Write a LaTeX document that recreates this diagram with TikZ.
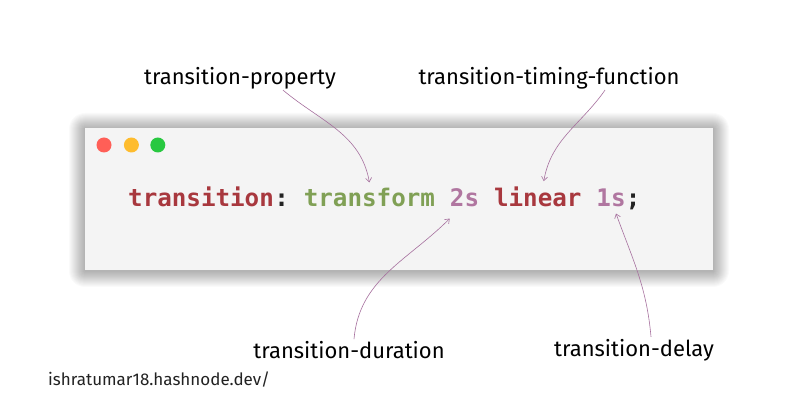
\documentclass[tikz,border=0pt]{standalone}
\usepackage{fontspec}
\setmainfont{Fira Sans}
\setmonofont{DejaVu Sans Mono}
\usepackage {tikz}
\usetikzlibrary {positioning}
\usetikzlibrary{arrows.meta}
\definecolor{keyred}{RGB}{168,56,62}
\definecolor{valgreen}{RGB}{128,160,85}
\definecolor{numpurple}{RGB}{176,118,160}
\definecolor{punct}{RGB}{34,34,34}
\definecolor{winbg}{RGB}{244,244,244}
\definecolor{pointerc}{RGB}{166,112,158}
\tikzset{
    proptext/.style = {font=\fontsize{22}{24}\selectfont, text=black, inner sep=0pt},
    code/.style = {font=\ttfamily\bfseries\fontsize{24.2}{26}\selectfont, inner sep=0pt},
    pointer/.style = {-{Straight Barb[length=4pt,width=6pt]}, draw=pointerc, line width=0.6pt},
    dot/.style = {circle, inner sep=0pt, minimum size=15pt}}

\begin{document}
\begin{tikzpicture}[x=1pt,y=1pt]
    \useasboundingbox (0,0) rectangle (800,420);
    \fill[white] (0,0) rectangle (800,420);
    % window with soft shadow
    \foreach \s in {1,...,16}
        \fill[black,opacity=0.018,rounded corners=\s pt] (85-\s,150-\s-1) rectangle (713+\s,292+\s-1);
    \fill[winbg] (85,150) rectangle (713,292);
    \node[dot,fill={rgb,255:red,255;green,95;blue,87}] (red) at (104,275) {};
    \node[dot,fill={rgb,255:red,254;green,188;blue,46}] (yellow) [right = 12pt of red] {};
    \node[dot,fill={rgb,255:red,40;green,200;blue,64}] (green) [right = 11pt of yellow] {};
    % code line
    \node[code,anchor=base west,text=keyred] (key) at (128,213) {transition};
    \node[code,text=punct] (colon) [base right = 0pt of key] {:};
    \node[code,text=valgreen] (prop) [base right = 14.57pt of colon] {transform};
    \node[code,text=numpurple] (dur) [base right = 14.57pt of prop] {2s};
    \node[code,text=keyred] (timing) [base right = 14.57pt of dur] {linear};
    \node[code,text=numpurple] (delay) [base right = 14.57pt of timing] {1s};
    \node[code,text=punct] (semi) [base right = 0pt of delay] {;};
    % labels
    \node[proptext] (Lprop) at (240,342) {transition-property};
    \node[proptext] (Ltiming) at (549,342) {transition-timing-function};
    \node[proptext] (Ldur) at (349,70) {transition-duration};
    \node[proptext] (Ldelay) at (634,70) {transition-delay};
    \node[proptext,anchor=west,font=\fontsize{17}{19}\selectfont,text=punct] (site) at (48,40) {ishratumar18.hashnode.dev/};
    % pointers
    \draw[pointer] ([xshift=43pt,yshift=-1pt]Lprop.south) to[out=-40,in=100] ([yshift=6pt]prop.north);
    \draw[pointer] ([xshift=56pt,yshift=-1pt]Ltiming.south) to[out=-125,in=80] ([xshift=6pt,yshift=6pt]timing.north);
    \draw[pointer] ([xshift=5pt,yshift=2pt]Ldur.north) to[out=85,in=-135] ([yshift=-11pt]dur.south west);
    \draw[pointer] ([xshift=17pt,yshift=2pt]Ldelay.north) to[out=95,in=-70] ([xshift=5pt,yshift=-6pt]delay.south);
\end{tikzpicture}
\end{document}
